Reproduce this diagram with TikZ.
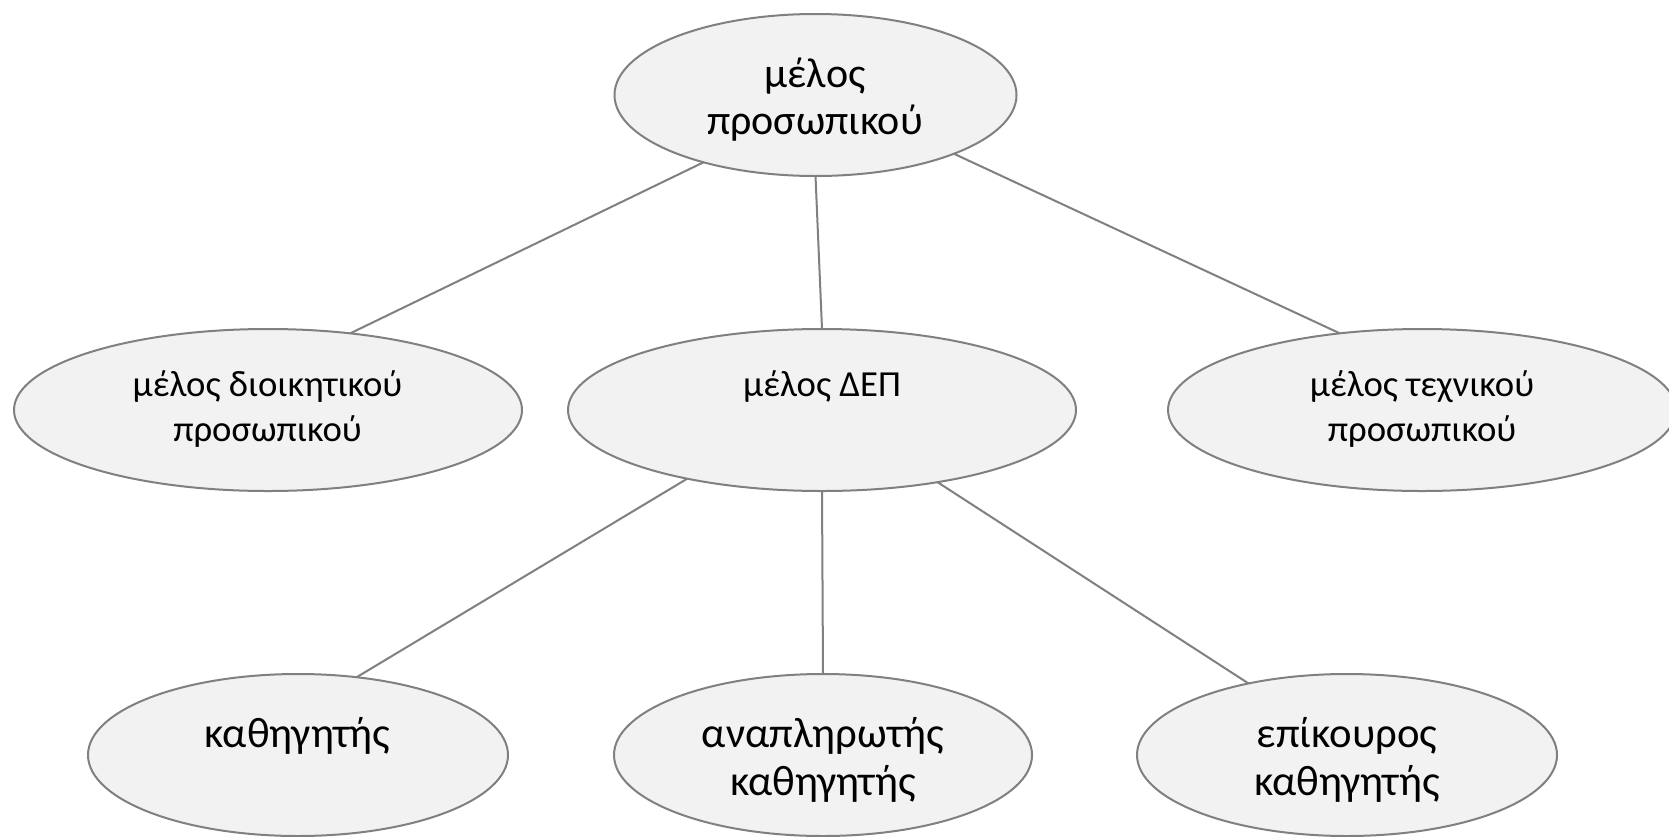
\documentclass[tikz,border=0pt]{standalone}
\usepackage{fontspec}
\setmainfont{Carlito}
\usetikzlibrary{shapes.geometric}
\definecolor{edgegray}{HTML}{808080}
\definecolor{fillgray}{HTML}{F2F2F2}
\newcommand{\twoline}[2]{\begin{tabular}[t]{@{}c@{}}#1\\#2\end{tabular}}
\begin{document}
\begin{tikzpicture}[x=1pt,y=-1pt,
  oval/.style={ellipse, draw=edgegray, fill=fillgray, line width=2pt, inner sep=0pt, outer sep=0pt, minimum height=162pt},
  link/.style={draw=edgegray, line width=2pt},
  bigtop/.style={font=\fontsize{42}{47}\selectfont},
  bigbot/.style={font=\fontsize{42.7}{48}\selectfont},
  small/.style={font=\fontsize{36.7}{45}\selectfont},
  lbl/.style={inner sep=0pt, outer sep=0pt, anchor=base, text=black}]
\useasboundingbox (0,0) rectangle (1669,836);
\fill[white] (0,0) rectangle (1669,836);
\node[oval, minimum width=402pt] (n0) at (815.5,95) {};
\node[oval, minimum width=508pt] (n1) at (268,410) {};
\node[oval, minimum width=508pt] (n2) at (822,410) {};
\node[oval, minimum width=508pt] (n3) at (1422,410) {};
\node[oval, minimum width=420pt] (n4) at (298,755) {};
\node[oval, minimum width=418pt] (n5) at (823,755) {};
\node[oval, minimum width=420pt] (n6) at (1347,755) {};
\draw[link] (n0.211.8) -- (n1.43.6);
\draw[link] (n0.south) -- (n2.north);
\draw[link] (n0.337.7) -- (n3.137.3);
\draw[link] (n2.207.1) -- (n4.53.8);
\draw[link] (n2.south) -- (n5.north);
\draw[link] (n2.328) -- (n6.144.4);
\node[lbl, bigtop] (t0) at (815,87.5) {\twoline{μέλος}{προσωπικού}};
\node[lbl, small] (t1) at (267.5,396) {\twoline{μέλος διοικητικού}{προσωπικού}};
\node[lbl, small] (t2) at (822,396) {μέλος ΔΕΠ};
\node[lbl, small] (t3) at (1422,396) {\twoline{μέλος τεχνικού}{προσωπικού}};
\node[lbl, bigbot] (t4) at (297.5,747) {καθηγητής};
\node[lbl, bigbot] (t5) at (823,747) {\twoline{αναπληρωτής}{καθηγητής}};
\node[lbl, bigbot] (t6) at (1347,747) {\twoline{επίκουρος}{καθηγητής}};
\end{tikzpicture}
\end{document}
